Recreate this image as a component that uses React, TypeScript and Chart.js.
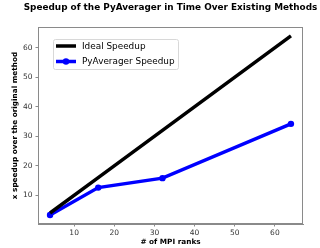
import React, { useEffect, useRef } from "react";
import { Chart, registerables } from "chart.js";
Chart.register(...registerables);

const ranks = [4, 16, 32, 64];
const idealSpeedup = [4, 16, 32, 64];
const pyAveragerSpeedup = [3.3, 12.6, 15.8, 34.2];
const tickValues = [10, 20, 30, 40, 50, 60];
const titleText = "Speedup of the PyAverager in Time Over Existing Methods";
const xTitle = "# of MPI ranks";
const yTitle = "x speedup over the original method";

const FONT = "'DejaVu Sans', sans-serif";
const SPINE = "#8a8a8a";

const decorPlugin = {
  id: "decor",
  afterDraw(chart: any) {
    const ctx = chart.ctx;
    const a = chart.chartArea;
    ctx.save();
    // frame
    ctx.strokeStyle = SPINE;
    ctx.lineWidth = 1;
    ctx.strokeRect(a.left + 0.5, a.top + 0.5, a.right - a.left - 1, a.bottom - a.top - 1);
    // title
    ctx.fillStyle = "#000";
    ctx.textAlign = "center";
    ctx.textBaseline = "middle";
    ctx.font = `bold 8.9px ${FONT}`;
    ctx.fillText(titleText, (a.left + a.right) / 2, 8);
    ctx.font = `bold 7.3px ${FONT}`;
    ctx.fillText(xTitle, (a.left + a.right) / 2, 242);
    ctx.save();
    ctx.translate(15, (a.top + a.bottom) / 2);
    ctx.rotate(-Math.PI / 2);
    ctx.fillText(yTitle, 0, 0);
    ctx.restore();
    // legend
    const lx = 53, ly = 39, lw = 125, lh = 30;
    ctx.fillStyle = "rgba(255,255,255,0.8)";
    ctx.strokeStyle = "#d8d8d8";
    ctx.lineWidth = 1;
    ctx.beginPath();
    ctx.roundRect(lx + 0.5, ly + 0.5, lw, lh, 2);
    ctx.fill();
    ctx.stroke();
    const rows = [46, 61.5];
    chart.data.datasets.forEach((ds: any, i: number) => {
      const y = rows[i];
      ctx.strokeStyle = ds.borderColor;
      ctx.lineWidth = ds.borderWidth;
      ctx.beginPath();
      ctx.moveTo(56, y);
      ctx.lineTo(76, y);
      ctx.stroke();
      if (ds.pointRadius > 0) {
        ctx.fillStyle = ds.pointBackgroundColor;
        ctx.beginPath();
        ctx.arc(66, y, ds.pointRadius, 0, Math.PI * 2);
        ctx.fill();
      }
      ctx.fillStyle = "#000";
      ctx.textAlign = "left";
      ctx.font = `8.9px ${FONT}`;
      ctx.fillText(ds.label, 82, y + 0.5);
    });
    ctx.restore();
  },
};

export default function App() {
  const ref = useRef<HTMLCanvasElement>(null);
  useEffect(() => {
    document.body.style.margin = "0";
    const chart = new Chart(ref.current!, {
      type: "line",
      data: {
        datasets: [
          {
            label: "Ideal Speedup",
            data: ranks.map((r, i) => ({ x: r, y: idealSpeedup[i] })),
            borderColor: "#000",
            backgroundColor: "#000",
            borderWidth: 3.5,
            pointRadius: 0,
            pointBackgroundColor: "#000",
            tension: 0,
          },
          {
            label: "PyAverager Speedup",
            data: ranks.map((r, i) => ({ x: r, y: pyAveragerSpeedup[i] })),
            borderColor: "#0000ff",
            backgroundColor: "#0000ff",
            borderWidth: 3.5,
            pointRadius: 3.2,
            pointBackgroundColor: "#0000ff",
            pointBorderWidth: 0,
            tension: 0,
          },
        ],
      },
      options: {
        responsive: false,
        animation: false,
        layout: { padding: { left: 0, top: 27, right: 17, bottom: 0 } },
        plugins: { legend: { display: false }, tooltip: { enabled: false }, title: { display: false } },
        scales: {
          x: {
            type: "linear",
            min: 1,
            max: 67,
            afterFit: (s: any) => { s.height = 24; },
            afterBuildTicks: (s: any) => { s.ticks = tickValues.map((v) => ({ value: v })); },
            grid: { drawOnChartArea: false, drawTicks: true, tickLength: 2.5, color: SPINE },
            border: { display: true, color: SPINE },
            ticks: { font: { family: FONT, size: 7.5 }, color: "#333", padding: 2, maxRotation: 0 },
          },
          y: {
            type: "linear",
            min: 0.27,
            max: 67,
            afterFit: (s: any) => { s.width = 38; },
            afterBuildTicks: (s: any) => { s.ticks = tickValues.map((v) => ({ value: v })); },
            grid: { drawOnChartArea: false, drawTicks: true, tickLength: 2.5, color: SPINE },
            border: { display: true, color: SPINE },
            ticks: { font: { family: FONT, size: 7.5 }, color: "#333", padding: 3 },
          },
        },
      },
      plugins: [decorPlugin],
    });
    return () => chart.destroy();
  }, []);
  return (
    <div style={{ width: 320, height: 248 }}>
      <canvas ref={ref} width={320} height={248} />
    </div>
  );
}
